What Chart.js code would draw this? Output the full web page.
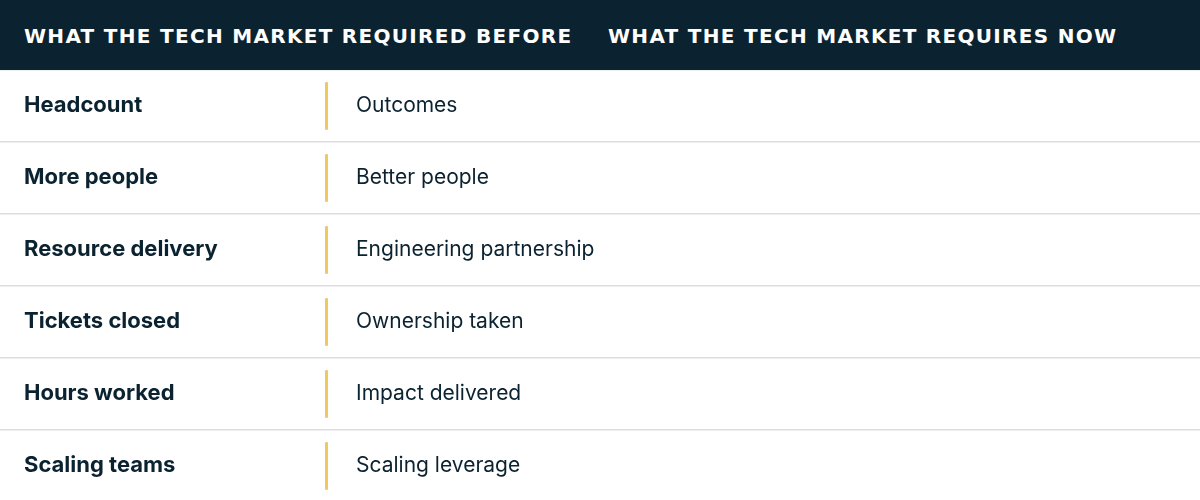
<!DOCTYPE html>
<html><head><meta charset="utf-8">
<script src="https://cdn.jsdelivr.net/npm/chart.js@4/dist/chart.umd.min.js"></script>
<style>
html,body{margin:0;padding:0;background:#fff;width:1200px;height:500px;overflow:hidden}
#hdr{height:70px;background:#0b2230;color:#fff;font:bold 20px "DejaVu Sans",sans-serif;letter-spacing:1.3px;position:relative}
#hdr span{position:absolute;top:24px}
#wrap{width:1200px;height:432px;position:relative}
</style></head><body>
<div id="hdr"><span id="h1" style="left:24px"></span><span id="h2" style="left:608px"></span></div>
<div id="wrap"><canvas id="c"></canvas></div>
<script>
const headers = ["WHAT THE TECH MARKET REQUIRED BEFORE", "WHAT THE TECH MARKET REQUIRES NOW"];
const before = ["Headcount","More people","Resource delivery","Tickets closed","Hours worked","Scaling teams"];
const now = ["Outcomes","Better people","Engineering partnership","Ownership taken","Impact delivered","Scaling leverage"];
document.getElementById('h1').textContent = headers[0];
document.getElementById('h2').textContent = headers[1];
const textPlugin = {
  id:'txt',
  afterDatasetsDraw(chart){
    const ctx = chart.ctx, y = chart.scales.y, x = chart.scales.x;
    ctx.save(); ctx.fillStyle = '#0b2230'; ctx.textBaseline = 'middle';
    before.forEach((b,i)=>{
      const py = y.getPixelForValue(i);
      ctx.font = 'bold 22px Inter, "Noto Sans", sans-serif';
      ctx.fillText(b, x.getPixelForValue(24), py-1);
      ctx.font = '21px Inter, "Noto Sans", sans-serif';
      ctx.fillText(now[i], x.getPixelForValue(356), py);
    });
    ctx.restore();
  }
};
new Chart(document.getElementById('c'), {
  type:'bar',
  data:{labels:before, datasets:[{data:before.map(()=>[325,328]), backgroundColor:'#f2c75c', barPercentage:0.66, categoryPercentage:1}]},
  options:{
    indexAxis:'y', responsive:true, maintainAspectRatio:false, animation:false,
    layout:{padding:0},
    plugins:{legend:{display:false}, tooltip:{enabled:false}},
    scales:{
      x:{type:'linear', min:0, max:1200, display:false},
      y:{type:'category', offset:true, border:{display:false}, ticks:{display:false},
         grid:{offset:true, color:'#d9dde0', lineWidth:1.5, drawTicks:false}}
    }
  },
  plugins:[textPlugin]
});
</script></body></html>
